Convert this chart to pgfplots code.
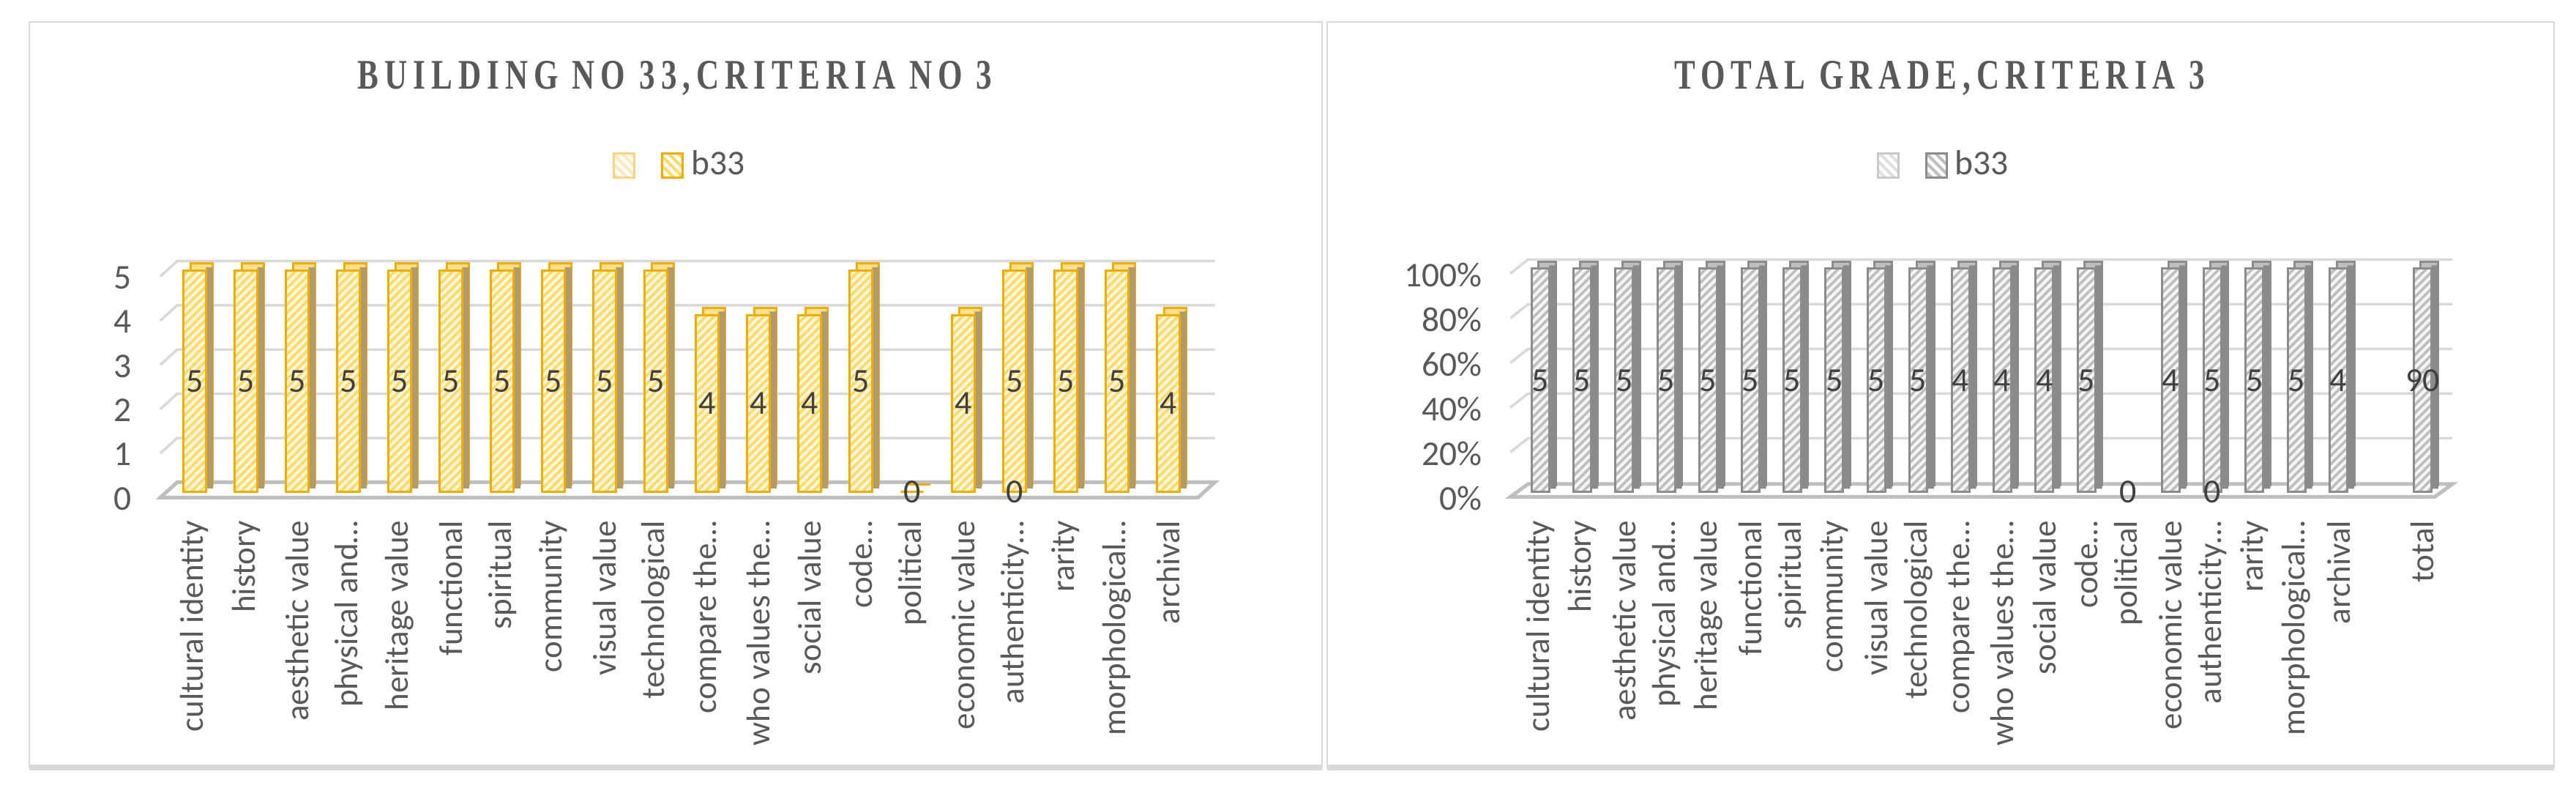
\documentclass[border=0pt]{standalone}
\usepackage{pgfplots}
\pgfplotsset{compat=1.18}
\usepackage{pgfplotstable}
\usepackage{fontspec}
\setmainfont{Carlito}
\newfontfamily\titlefont{Liberation Serif}[FakeStretch=0.75,LetterSpace=14]
\usetikzlibrary{patterns.meta}

\definecolor{gold}{HTML}{F2AE00}
\definecolor{goldside}{HTML}{B09A6E}
\definecolor{goldtop}{HTML}{FFE08A}
\definecolor{goldhatch}{HTML}{FFD966}
\definecolor{goldbase}{HTML}{FFF7DC}
\definecolor{goldlight}{HTML}{FFD27F}
\definecolor{goldlighthatch}{HTML}{FFE9B8}
\definecolor{grayb}{HTML}{8C8C8C}
\definecolor{grayside}{HTML}{8A8A8A}
\definecolor{graytop}{HTML}{BFBFBF}
\definecolor{grayhatch}{HTML}{BDBDBD}
\definecolor{graybase}{HTML}{F4F4F4}
\definecolor{graylight}{HTML}{C9C9C9}
\definecolor{gridc}{HTML}{D9D9D9}
\definecolor{floorc}{HTML}{BFBFBF}
\definecolor{txt}{HTML}{595959}
\definecolor{lbl}{HTML}{404040}
\definecolor{boxc}{HTML}{D9D9D9}

% b33 scores, label position at half height
\pgfplotstableread{
i v mid
0 5 2.5
1 5 2.5
2 5 2.5
3 5 2.5
4 5 2.5
5 5 2.5
6 5 2.5
7 5 2.5
8 5 2.5
9 5 2.5
10 4 2
11 4 2
12 4 2
13 5 2.5
14 0 0
15 4 2
16 5 2.5
17 5 2.5
18 5 2.5
19 4 2
}\leftdata

% same scores as share of each column (100% stacked)
\pgfplotstableread{
i v pct mid
0 5 100 50
1 5 100 50
2 5 100 50
3 5 100 50
4 5 100 50
5 5 100 50
6 5 100 50
7 5 100 50
8 5 100 50
9 5 100 50
10 4 100 50
11 4 100 50
12 4 100 50
13 5 100 50
14 0 nan 0
15 4 100 50
16 5 100 50
17 5 100 50
18 5 100 50
19 4 100 50
21 90 100 50
}\rightdata

\tikzset{
  goldbar/.style={draw=gold, line width=0.6pt, preaction={fill=goldbase},
    pattern={Lines[angle=45,distance=1.6pt,line width=0.7pt]}, pattern color=goldhatch},
  goldbarlight/.style={draw=goldlight, line width=0.6pt, preaction={fill=white},
    pattern={Lines[angle=-45,distance=1.8pt,line width=0.8pt]}, pattern color=goldlighthatch},
  goldbarleg/.style={draw=gold, line width=0.6pt, preaction={fill=white},
    pattern={Lines[angle=-45,distance=1.8pt,line width=0.8pt]}, pattern color=goldhatch},
  graybar/.style={draw=grayb, line width=0.6pt, preaction={fill=graybase},
    pattern={Lines[angle=45,distance=1.6pt,line width=0.7pt]}, pattern color=grayhatch},
  graybarlight/.style={draw=graylight, line width=0.6pt, preaction={fill=white},
    pattern={Lines[angle=-45,distance=1.8pt,line width=0.8pt]}, pattern color=graylight!60},
  graybarleg/.style={draw=grayb, line width=0.6pt, preaction={fill=white},
    pattern={Lines[angle=-45,distance=1.8pt,line width=0.8pt]}, pattern color=grayhatch},
}

\pgfplotsset{
  excel3d/.style={
    scale only axis, clip=false,
    axis line style={draw=none}, major tick length=0pt,
    /pgf/number format/assume math mode=true,
    tick label style={font=\fontsize{9.5}{11}\selectfont, text=txt},
    xticklabel style={rotate=90, anchor=east, inner sep=0pt, font=\fontsize{9}{10}\selectfont},
    xticklabel shift=7.6pt,
    yticklabel style={anchor=east, inner sep=0pt, yshift=-1.8pt},
    yticklabel shift=10pt,
    every node near coord/.append style={anchor=center, font=\fontsize{9.2}{10}\selectfont, text=lbl},
    every axis title/.style={anchor=center,
      font=\titlefont\bfseries\fontsize{11.5}{13}\selectfont, text=txt},
    legend style={draw=none, fill=none, anchor=center, font=\fontsize{9.5}{11}\selectfont,
      text=txt, /tikz/every even column/.append style={column sep=3pt}},
    legend columns=2,
  },
}

\begin{document}
\begin{tikzpicture}
\path[use as bounding box] (0,0) rectangle (703.8pt,218.2pt);
\draw[boxc, line width=0.5pt] (8pt,8.6pt) rectangle (361.2pt,212.2pt);
\draw[boxc, line width=1.5pt] (8pt,8.6pt) -- (361.2pt,8.6pt);
\draw[boxc, line width=0.5pt] (362.6pt,8.6pt) rectangle (697.8pt,212.2pt);
\draw[boxc, line width=1.5pt] (362.6pt,8.6pt) -- (697.8pt,8.6pt);

% ---------- left: building 33 ----------
\begin{axis}[excel3d,
  at={(46.2pt,83.8pt)}, anchor=south west,
  width=283.5pt, height=60.4pt,
  xmin=-0.5, xmax=19.75, ymin=0, ymax=5,
  ytick={0,1,2,3,4,5},
  xtick={0,...,19},
  xticklabels={cultural identity,history,aesthetic value,physical and…,heritage value,functional,spiritual,community,visual value,technological,compare the…,who values the…,social value,code…,political,economic value,authenticity…,rarity,morphological…,archival},
  title={BUILDING NO 33,CRITERIA NO 3},
  title style={at={(0.4875,1.871)}},
  legend style={at={(0.4945,1.477)}},
]
\addlegendimage{legend image code/.code={\draw[goldbarlight] (0pt,-3.3pt) rectangle (5.6pt,3.3pt);}}
\addlegendentry{}
\addlegendimage{legend image code/.code={\draw[goldbarleg] (0pt,-3.3pt) rectangle (5.6pt,3.3pt);}}
\addlegendentry{b33}
\pgfplotsinvokeforeach{1,2,3,4,5}{
  \draw[gridc, line width=0.7pt] ([shift={(-2.4pt,-1.5pt)}]axis cs:-0.5,#1)
    -- ([shift={(2.2pt,2.7pt)}]axis cs:-0.5,#1) -- ([shift={(2.2pt,2.7pt)}]axis cs:19.75,#1);
}
\draw[floorc, line width=1pt] ([shift={(-2.4pt,-1.5pt)}]axis cs:-0.5,0)
  -- ([shift={(-2.4pt,-1.5pt)}]axis cs:19.75,0) -- ([shift={(2.2pt,2.7pt)}]axis cs:19.75,0)
  -- ([shift={(2.2pt,2.7pt)}]axis cs:-0.5,0) -- cycle;
% back (top face) and side face of the 3-d columns
\addplot[ybar, bar width=6.12pt, bar shift=1.9pt, yshift=2pt, forget plot,
  draw=gold, line width=0.6pt, fill=goldtop] table[x=i, y=v] {\leftdata};
\addplot[ybar, bar width=1.9pt, bar shift=4.0pt, yshift=1pt, forget plot,
  draw=none, fill=goldside] table[x=i, y=v] {\leftdata};
\addplot[ybar, bar width=6.12pt, bar shift=0pt, forget plot, goldbar] table[x=i, y=v] {\leftdata};
\addplot[draw=none, mark=none, forget plot, nodes near coords, point meta=explicit]
  table[x=i, y=mid, meta=v] {\leftdata};
\addplot[draw=none, mark=none, forget plot, nodes near coords, point meta=explicit]
  coordinates {(16,0) [0]};
\end{axis}

% ---------- right: total grade ----------
\begin{axis}[excel3d,
  at={(415.06pt,83.8pt)}, anchor=south west,
  width=252.56pt, height=61pt,
  xmin=-0.5, xmax=21.5, ymin=0, ymax=100,
  ytick={0,20,40,60,80,100},
  yticklabel={\pgfmathprintnumber{\tick}\%},
  xtick={0,1,2,3,4,5,6,7,8,9,10,11,12,13,14,15,16,17,18,19,21},
  xticklabels={cultural identity,history,aesthetic value,physical and…,heritage value,functional,spiritual,community,visual value,technological,compare the…,who values the…,social value,code…,political,economic value,authenticity…,rarity,morphological…,archival,total},
  title={TOTAL GRADE,CRITERIA 3},
  title style={at={(0.455,1.852)}},
  legend style={at={(0.462,1.462)}},
  unbounded coords=discard,
]
\addlegendimage{legend image code/.code={\draw[graybarlight] (0pt,-3.3pt) rectangle (5.6pt,3.3pt);}}
\addlegendentry{}
\addlegendimage{legend image code/.code={\draw[graybarleg] (0pt,-3.3pt) rectangle (5.6pt,3.3pt);}}
\addlegendentry{b33}
\pgfplotsinvokeforeach{20,40,60,80,100}{
  \draw[gridc, line width=0.7pt] ([shift={(-2.4pt,-1.3pt)}]axis cs:-0.5,#1)
    -- ([shift={(2.4pt,2.5pt)}]axis cs:-0.5,#1) -- ([shift={(2.4pt,2.5pt)}]axis cs:21.5,#1);
}
\draw[floorc, line width=1pt] ([shift={(-2.4pt,-1.3pt)}]axis cs:-0.5,0)
  -- ([shift={(-2.4pt,-1.3pt)}]axis cs:21.5,0) -- ([shift={(2.4pt,2.2pt)}]axis cs:21.5,0)
  -- ([shift={(2.4pt,2.2pt)}]axis cs:-0.5,0) -- cycle;
\addplot[ybar, bar width=4.8pt, bar shift=1.9pt, yshift=1.8pt, forget plot,
  draw=grayb, line width=0.6pt, fill=graytop] table[x=i, y=pct] {\rightdata};
\addplot[ybar, bar width=1.9pt, bar shift=3.35pt, yshift=0.9pt, forget plot,
  draw=none, fill=grayside] table[x=i, y=pct] {\rightdata};
\addplot[ybar, bar width=4.8pt, bar shift=0pt, forget plot, graybar] table[x=i, y=pct] {\rightdata};
\addplot[draw=none, mark=none, forget plot, nodes near coords, point meta=explicit]
  table[x=i, y=mid, meta=v] {\rightdata};
\addplot[draw=none, mark=none, forget plot, nodes near coords, point meta=explicit]
  coordinates {(16,0) [0]};
\end{axis}
\end{tikzpicture}
\end{document}
